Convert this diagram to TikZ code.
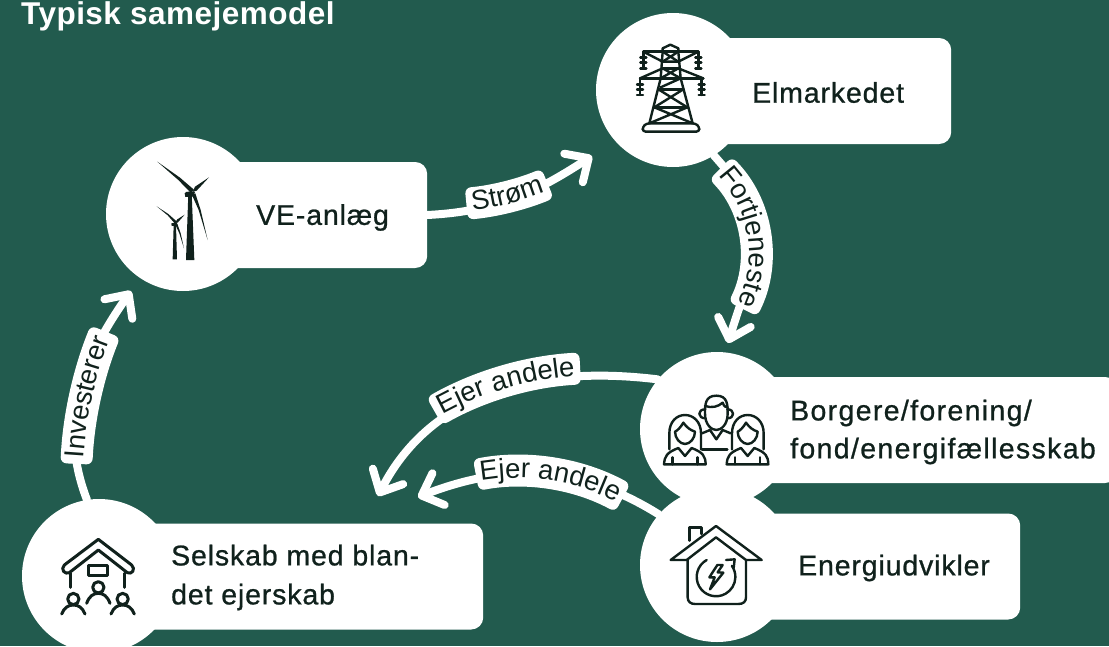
\documentclass[tikz,border=0pt]{standalone}
\usepackage{fontspec}
\setmainfont{Liberation Sans}
\usetikzlibrary{calc,arrows.meta,decorations.text}
\pgfdeclarelayer{back}
\pgfsetlayers{back,main}
\definecolor{bg}{HTML}{225B4E}
\definecolor{ink}{HTML}{10211C}
\newfontfamily\bodyfont[LetterSpace=3,FakeBold=0.8]{Liberation Sans}
\newfontfamily\widebodyfont[LetterSpace=4.7,FakeBold=0.8]{Liberation Sans}
\newfontfamily\curvefont{Liberation Sans}
\newfontfamily\titlefont[LetterSpace=1.5]{Liberation Sans Bold}
\newcommand{\mainsize}{\fontsize{28.5}{39}\selectfont\bodyfont}
\newcommand{\widesize}{\fontsize{28.5}{38}\selectfont\widebodyfont}
\newcommand{\lblsize}{\fontsize{27.5}{30}\selectfont\curvefont}
\tikzset{
  disc/.style={circle,fill=white,minimum size=154pt,inner sep=0pt},
  panel/.style={rectangle,fill=white,rounded corners=12pt,anchor=west,minimum height=106pt,inner sep=0pt},
  caption/.style={anchor=west,align=left,text=ink,inner sep=0pt,font=\mainsize},
  conn/.style={draw=white,line width=8pt,line cap=round,
    -{Straight Barb[length=18pt,width=34pt,round,line width=8pt]}},
  iconline/.style={draw=ink,line width=2.4pt,line cap=round,line join=round},
  iconheavy/.style={draw=ink,line width=3pt,line cap=round,line join=round},
  iconfill/.style={fill=ink,draw=none},
  iconzone/.style={x=0.33333pt,y=-0.33333pt},
}
% centre x, centre y, radius of the band, start angle, end angle, baseline radius, text
\newcommand{\arclabel}[7]{%
  \fill[white,rounded corners=6pt]
    ($(#1,#2)+(#4:#3-16)$) arc[start angle=#4,end angle=#5,radius=#3-16]
    -- ($(#1,#2)+(#5:#3+16)$) arc[start angle=#5,end angle=#4,radius=#3+16] -- cycle;
  \path[decorate,decoration={text along path,text align=center,
      text={|\lblsize\color{ink}|#7}}]
    ($(#1,#2)+(#4:#6)$) arc[start angle=#4,end angle=#5,radius=#6];
}
\begin{document}
\begin{tikzpicture}[x=1pt,y=1pt]
\useasboundingbox (0,-646) rectangle (1109,0);
\begin{pgfonlayer}{back}
\fill[bg] (0,-646) rectangle (1109,0);
\end{pgfonlayer}

\node[anchor=base west,text=white,inner sep=0pt,font=\fontsize{31.5}{32}\selectfont\titlefont] (title) at (21,-24) {Typisk samejemodel};

% nodes
\node[disc] (veDisc) at (183,-214) {};
\node[panel,minimum width=244pt] (veBox) at (183,-215) {};
\node[disc] (elDisc) at (673,-90) {};
\node[panel,minimum width=278pt] (elBox) at (673,-91) {};
\node[disc] (boDisc) at (717,-429) {};
\node[panel,minimum width=400pt] (boBox) at (717,-430) {};
\node[disc] (enDisc) at (717,-565) {};
\node[panel,minimum width=303pt] (enBox) at (717,-566.5) {};
\node[disc] (seDisc) at (99,-576) {};
\node[panel,minimum width=384pt] (seBox) at (99,-576.5) {};

% free ends
\coordinate (tipStrom) at (592,-156);
\coordinate (tipFort) at (728,-343);
\coordinate (tipEjerA) at (378,-496);
\coordinate (tipEjerB) at (418,-497);
\coordinate (tipInv) at (131,-291);

% connectors
\begin{pgfonlayer}{back}
\draw[conn] (veBox.east) to[out=3,in=213] (tipStrom);
\draw[conn] (elDisc.-58) to[out=-48,in=73,looseness=1.35] (tipFort);
\draw[conn] (boDisc.140) to[out=173,in=63] (tipEjerA);
\draw[conn] (enDisc.139) to[out=148,in=21] (tipEjerB);
\draw[conn] (seDisc.99) to[out=111,in=235] (tipInv);
\end{pgfonlayer}

% curved labels
\arclabel{440}{75}{280}{-84.6}{-67.4}{287}{Strøm}
\arclabel{634}{-254}{122}{44.7}{-26.8}{115}{Fortjeneste}
\arclabel{598}{-698}{330}{119.7}{93.1}{323}{Ejer andele}
\arclabel{517.5}{-691}{220}{100.9}{61.4}{213}{Ejer andele}
\arclabel{476}{-482}{400}{177.4}{157.9}{393}{Investerer}

% captions
\node[caption] (veText) at (256,-217.5) {VE-anlæg};
\node[caption] (elText) at (752,-92.5) {Elmarkedet};
\node[caption,font=\widesize] (boText) at (790,-432) {Borgere/forening/\\fond/energifællesskab};
\node[caption] (enText) at (798,-568) {Energiudvikler};
\node[caption] (seText) at (171,-577.5) {Selskab med blan-\\det ejerskab};

% wind turbines
\begin{scope}[shift={(100,-130)},iconzone]
  \fill[iconfill] (258,390) -- (283,390) -- (275,190) -- (265,190) -- cycle;
  \fill[iconfill] (254,190) -- (258,186) -- (272,184) -- (285,186) -- (280,200) -- (256,201) -- cycle;
  \fill[iconfill] (172,95) -- (240,143) -- (283,180) -- (272,188) -- (235,150) -- cycle;
  \fill[iconfill] (327,142) -- (290,182) -- (278,186) -- (285,170) -- cycle;
  \fill[iconfill] (323,330) -- (296,240) -- (276,195) -- (286,190) -- (302,240) -- cycle;
  \fill[iconfill] (218,388) -- (231,388) -- (228,285) -- (221,285) -- cycle;
  \fill[iconfill] (214,280) -- (230,277) -- (231,287) -- (215,288) -- cycle;
  \fill[iconfill] (170,229) -- (205,252) -- (232,276) -- (225,281) -- (203,256) -- cycle;
  \fill[iconfill] (254,254) -- (233,278) -- (225,278) -- (232,268) -- cycle;
  \fill[iconfill] (252,355) -- (238,310) -- (226,284) -- (232,281) -- (242,310) -- cycle;
\end{scope}

% pylon
\begin{scope}[shift={(590,0)},iconzone]
  \draw[iconline] (218,155) -- (218,145) -- (241,134) -- (265,145) -- (265,155);
  \draw[iconline] (160,155) -- (325,155);
  \draw[iconline] (160,155) -- (218,185) -- (265,185) -- (325,155);
  \draw[iconline] (218,155) -- (212,235) (265,155) -- (272,235);
  \draw[iconline] (218,155) -- (265,185) (265,155) -- (218,185);
  \draw[iconline] (218,205) -- (265,205);
  \draw[iconline] (150,235) -- (340,235);
  \draw[iconline] (150,235) -- (218,205) -- (272,235) (340,235) -- (265,205) -- (212,235);
  \draw[iconline] (212,235) -- (178,370) (272,235) -- (308,370);
  \draw[iconline] (205,268) -- (280,268) (193,322) -- (292,322);
  \draw[iconline] (212,262) -- (272,235) (205,268) -- (292,322) (280,268) -- (193,322);
  \draw[iconline] (193,322) -- (308,370) (292,322) -- (178,370);
  \draw[iconline,rounded corners=3pt] (170,370) -- (316,370) -- (328,380) -- (328,395) -- (158,395) -- (158,380) -- cycle;
  \foreach \px/\py in {160/155,325/155,150/235,335/235}{
    \draw[iconline] (\px,\py) -- (\px,\py+50);
    \foreach \dy in {18,33,50}{\draw[iconline] (\px-9,\py+\dy) -- (\px+9,\py+\dy);}
  }
\end{scope}

% three people
\begin{scope}[shift={(640,-350)},iconzone]
  \draw[iconline] (229,137) .. controls (195,137) and (195,165) .. (195,190)
     .. controls (195,225) and (215,240) .. (229,240)
     .. controls (243,240) and (263,225) .. (263,190)
     .. controls (263,165) and (263,137) .. (229,137) -- cycle;
  \draw[iconline] (195,168) .. controls (215,175) and (235,170) .. (248,158) .. controls (252,170) and (258,172) .. (263,172);
  \draw[iconline] (195,178) .. controls (172,178) and (172,205) .. (197,205);
  \draw[iconline] (262,178) .. controls (285,178) and (285,205) .. (262,205);
  \draw[iconline] (186,250) -- (210,240) -- (229,268) -- (248,240) -- (272,250);
  \draw[iconline] (186,298) -- (262,298);
  \foreach \sx in {0,188}{
    \begin{scope}[xshift=\sx*0.33333pt]
      \draw[iconline] (88,298) -- (88,250) .. controls (88,215) and (110,195) .. (135,195)
         .. controls (160,195) and (183,215) .. (183,250) -- (183,298);
      \draw[iconline] (105,245) .. controls (105,265) and (120,282) .. (135,282)
         .. controls (150,282) and (165,265) .. (165,245)
         .. controls (150,240) and (140,232) .. (130,218) .. controls (122,232) and (112,242) .. (105,245) -- cycle;
      \draw[iconline] (72,343) .. controls (74,318) and (80,308) .. (115,294) -- (135,318) -- (155,294)
         .. controls (190,308) and (196,318) .. (197,343) -- cycle;
      \draw[iconline] (97,343) -- (97,322) (172,343) -- (172,322);
    \end{scope}
  }
\end{scope}

% energy house
\begin{scope}[shift={(640,-350)},iconzone]
  \draw[iconline] (92,630) -- (228,528) -- (365,630) -- (318,630) -- (228,562) -- (140,630) -- cycle;
  \draw[iconline] (143,630) -- (143,742) .. controls (143,755) and (152,762) .. (165,762) -- (295,762)
     .. controls (310,762) and (318,755) .. (318,742) -- (318,630);
  \draw[iconline] (148,572) -- (148,532) -- (185,532) -- (185,552);
  \draw[iconline] (200,630) arc[start angle=241,end angle=-35,radius=58];
  \draw[iconline] (258,630) -- (284,628) -- (281,654);
  \draw[iconline] (232,645) -- (208,682) -- (224,682) -- (210,718) -- (250,668) -- (233,667) -- (248,645) -- cycle;
\end{scope}

% house with owners
\begin{scope}[shift={(20,-490)},iconzone]
  \draw[iconheavy] (235,148) -- (335,225) .. controls (348,238) and (335,255) .. (322,248)
     -- (235,180) -- (148,248) .. controls (135,255) and (120,238) .. (133,225) -- cycle;
  \draw[iconheavy] (205,225) rectangle (263,255);
  \draw[iconheavy] (153,250) -- (153,292) (315,250) -- (315,292);
  \draw[iconheavy] (235,292) circle[radius=17];
  \draw[iconheavy] (200,340) .. controls (208,318) and (220,310) .. (235,310) .. controls (250,310) and (262,318) .. (270,340);
  \foreach \hx in {160,308}{
    \draw[iconheavy] (\hx,327) circle[radius=17];
    \draw[iconheavy] (\hx-35,372) .. controls (\hx-27,352) and (\hx-15,345) .. (\hx,345) .. controls (\hx+15,345) and (\hx+27,352) .. (\hx+35,372);
  }
\end{scope}
\end{tikzpicture}
\end{document}
